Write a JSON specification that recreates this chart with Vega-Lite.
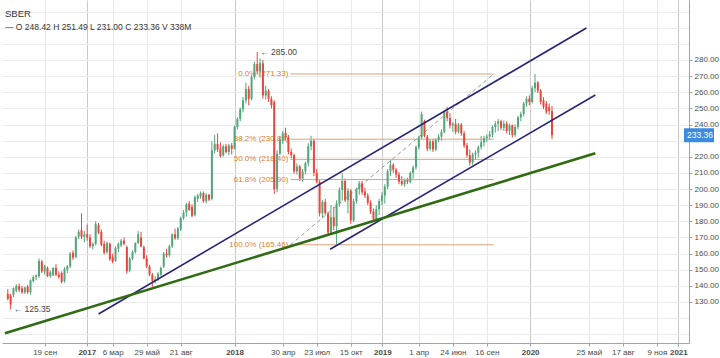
{
  "$schema": "https://vega.github.io/schema/vega-lite/v6.json",
  "width": 687,
  "height": 343,
  "autosize": {"type": "none"},
  "padding": {"left": 2, "top": 0, "right": 31, "bottom": 15},
  "background": "#ffffff",
  "config": {"view": {"stroke": null}, "font": "Liberation Sans", "axis": {"labelOverlap": false, "labelBound": false}},
  "title": {
    "text": "SBER",
    "subtitle": "—  O 248.42  H 251.49  L 231.00  C 233.36  V 338M",
    "anchor": "start",
    "frame": "group",
    "offset": -31,
    "dx": 3,
    "fontSize": 9.5,
    "fontWeight": "normal",
    "color": "#333333",
    "subtitleFontSize": 8.5,
    "subtitleColor": "#333333",
    "subtitlePadding": 4
  },
  "datasets": {
    "candles": [
      {"d":"2016-06-20","o":135,"h":138,"l":131,"c":132},
      {"d":"2016-06-27","o":134,"h":135,"l":125.35,"c":128.5},
      {"d":"2016-07-04","o":134.5,"h":139,"l":133,"c":138.5},
      {"d":"2016-07-11","o":137,"h":141,"l":136,"c":140},
      {"d":"2016-07-18","o":140,"h":141.5,"l":136,"c":137.5},
      {"d":"2016-07-25","o":138.5,"h":140,"l":135,"c":136},
      {"d":"2016-08-01","o":136,"h":139.5,"l":135,"c":139},
      {"d":"2016-08-08","o":139.5,"h":140.5,"l":135,"c":136},
      {"d":"2016-08-15","o":136,"h":144,"l":134.5,"c":143.5},
      {"d":"2016-08-22","o":143,"h":146.5,"l":142,"c":145.5},
      {"d":"2016-08-29","o":145.5,"h":147,"l":143.5,"c":146.5},
      {"d":"2016-09-05","o":146,"h":157,"l":145,"c":155.5},
      {"d":"2016-09-12","o":155,"h":156,"l":148,"c":149},
      {"d":"2016-09-19","o":149,"h":153,"l":147,"c":152},
      {"d":"2016-09-26","o":151,"h":152,"l":145.5,"c":146},
      {"d":"2016-10-03","o":146,"h":149.5,"l":145,"c":148.5},
      {"d":"2016-10-10","o":146.5,"h":151.5,"l":146,"c":151},
      {"d":"2016-10-17","o":151,"h":153.5,"l":146,"c":147},
      {"d":"2016-10-24","o":147,"h":149,"l":144.5,"c":145.5},
      {"d":"2016-10-31","o":148,"h":149,"l":141.5,"c":142.5},
      {"d":"2016-11-07","o":143,"h":151.5,"l":142,"c":150.5},
      {"d":"2016-11-14","o":150,"h":153,"l":148,"c":152},
      {"d":"2016-11-21","o":152,"h":161,"l":151,"c":160},
      {"d":"2016-11-28","o":160.5,"h":162,"l":156,"c":157.5},
      {"d":"2016-12-05","o":158,"h":171,"l":157,"c":170},
      {"d":"2016-12-12","o":170.5,"h":175,"l":169,"c":173.5},
      {"d":"2016-12-19","o":174.5,"h":185,"l":169,"c":170.5},
      {"d":"2016-12-26","o":170.5,"h":174,"l":167,"c":172},
      {"d":"2017-01-02","o":172,"h":178,"l":168,"c":170},
      {"d":"2017-01-09","o":170,"h":172,"l":163.5,"c":164.5},
      {"d":"2017-01-16","o":164.5,"h":167,"l":162.5,"c":166},
      {"d":"2017-01-23","o":166,"h":180,"l":165,"c":178.5},
      {"d":"2017-01-30","o":177.5,"h":179,"l":172,"c":173},
      {"d":"2017-02-06","o":173.5,"h":175,"l":164.5,"c":165.5},
      {"d":"2017-02-13","o":166,"h":168,"l":159.5,"c":160.5},
      {"d":"2017-02-20","o":161,"h":167.5,"l":160,"c":166.5},
      {"d":"2017-02-27","o":166,"h":167,"l":155.5,"c":156.5},
      {"d":"2017-03-06","o":158,"h":160,"l":154,"c":155},
      {"d":"2017-03-13","o":155.5,"h":164.5,"l":155,"c":163.5},
      {"d":"2017-03-20","o":163,"h":167,"l":161,"c":166},
      {"d":"2017-03-27","o":165,"h":169,"l":164,"c":168},
      {"d":"2017-04-03","o":168,"h":170,"l":165,"c":166},
      {"d":"2017-04-10","o":164,"h":165,"l":147.5,"c":149},
      {"d":"2017-04-17","o":149.5,"h":158,"l":148.5,"c":157},
      {"d":"2017-04-24","o":157,"h":162,"l":156,"c":161},
      {"d":"2017-05-01","o":161,"h":167,"l":160,"c":166.5},
      {"d":"2017-05-08","o":166.5,"h":174,"l":166,"c":172},
      {"d":"2017-05-15","o":170,"h":173.5,"l":164,"c":164.5},
      {"d":"2017-05-22","o":164,"h":165,"l":156.5,"c":157},
      {"d":"2017-05-29","o":157,"h":159,"l":151,"c":152},
      {"d":"2017-06-05","o":152,"h":153,"l":146,"c":147},
      {"d":"2017-06-12","o":147,"h":148,"l":139.5,"c":143},
      {"d":"2017-06-19","o":143,"h":146,"l":141.5,"c":144},
      {"d":"2017-06-26","o":144,"h":148.5,"l":143,"c":147.5},
      {"d":"2017-07-03","o":147,"h":152,"l":146,"c":151},
      {"d":"2017-07-10","o":152,"h":161,"l":151,"c":160},
      {"d":"2017-07-17","o":160,"h":163,"l":157.5,"c":159},
      {"d":"2017-07-24","o":159,"h":165.5,"l":158,"c":164.5},
      {"d":"2017-07-31","o":164.5,"h":172.5,"l":163.5,"c":172},
      {"d":"2017-08-07","o":172,"h":175.5,"l":168.5,"c":169.5},
      {"d":"2017-08-14","o":169.5,"h":176.5,"l":168.5,"c":175.5},
      {"d":"2017-08-21","o":175,"h":183,"l":174,"c":182},
      {"d":"2017-08-28","o":182,"h":187,"l":181,"c":185.5},
      {"d":"2017-09-04","o":185.5,"h":191.5,"l":183,"c":190.5},
      {"d":"2017-09-11","o":191,"h":192.5,"l":186.5,"c":187},
      {"d":"2017-09-18","o":189,"h":190.5,"l":182.5,"c":183.5},
      {"d":"2017-09-25","o":184,"h":196,"l":183,"c":195},
      {"d":"2017-10-02","o":194,"h":197,"l":192,"c":196},
      {"d":"2017-10-09","o":195.5,"h":198.5,"l":194,"c":197.5},
      {"d":"2017-10-16","o":197.5,"h":198.5,"l":191.5,"c":192.5},
      {"d":"2017-10-23","o":192.5,"h":197.5,"l":191,"c":196.5},
      {"d":"2017-10-30","o":196.5,"h":197,"l":192.5,"c":193.5},
      {"d":"2017-11-06","o":194,"h":229.5,"l":193,"c":224},
      {"d":"2017-11-13","o":224,"h":233.5,"l":222,"c":228},
      {"d":"2017-11-20","o":228,"h":234.5,"l":223,"c":224.5},
      {"d":"2017-11-27","o":225,"h":229,"l":219.5,"c":220.5},
      {"d":"2017-12-04","o":221,"h":227.5,"l":220,"c":226.5},
      {"d":"2017-12-11","o":226.5,"h":228,"l":222,"c":223},
      {"d":"2017-12-18","o":223,"h":228,"l":221,"c":227},
      {"d":"2017-12-25","o":227,"h":228.5,"l":221.5,"c":225},
      {"d":"2018-01-01","o":225,"h":239.5,"l":224.5,"c":238.5},
      {"d":"2018-01-08","o":238.5,"h":244.5,"l":237,"c":243.5},
      {"d":"2018-01-15","o":243.5,"h":250.5,"l":242,"c":249.5},
      {"d":"2018-01-22","o":249.5,"h":257,"l":247.5,"c":255},
      {"d":"2018-01-29","o":255,"h":266,"l":253,"c":262},
      {"d":"2018-02-05","o":262,"h":264,"l":252,"c":256},
      {"d":"2018-02-12","o":256,"h":271,"l":255,"c":269.5},
      {"d":"2018-02-19","o":269.5,"h":279,"l":268,"c":277.5},
      {"d":"2018-02-26","o":277.5,"h":285,"l":271,"c":273},
      {"d":"2018-03-05","o":273,"h":281,"l":270,"c":278},
      {"d":"2018-03-12","o":278,"h":280,"l":256,"c":258},
      {"d":"2018-03-19","o":258,"h":264,"l":255.5,"c":261},
      {"d":"2018-03-26","o":261,"h":262,"l":254,"c":256},
      {"d":"2018-04-02","o":256,"h":257.5,"l":250,"c":252},
      {"d":"2018-04-09","o":254,"h":255,"l":197,"c":200},
      {"d":"2018-04-16","o":200,"h":224,"l":198,"c":222},
      {"d":"2018-04-23","o":222,"h":233,"l":221,"c":231},
      {"d":"2018-04-30","o":230,"h":236,"l":228,"c":234.5},
      {"d":"2018-05-07","o":235,"h":238,"l":230,"c":232},
      {"d":"2018-05-14","o":232,"h":233.5,"l":221.5,"c":223},
      {"d":"2018-05-21","o":223,"h":225,"l":219,"c":221},
      {"d":"2018-05-28","o":221,"h":222,"l":209.5,"c":211},
      {"d":"2018-06-04","o":211,"h":216,"l":209,"c":214},
      {"d":"2018-06-11","o":214,"h":215,"l":205,"c":206.5},
      {"d":"2018-06-18","o":206.5,"h":212.5,"l":204.5,"c":211},
      {"d":"2018-06-25","o":211,"h":217,"l":209,"c":216},
      {"d":"2018-07-02","o":216,"h":228.5,"l":214,"c":226.5},
      {"d":"2018-07-09","o":226.5,"h":233,"l":224,"c":230},
      {"d":"2018-07-16","o":230,"h":231,"l":208,"c":210},
      {"d":"2018-07-23","o":210,"h":212.5,"l":203.5,"c":204.5},
      {"d":"2018-07-30","o":204.5,"h":205.5,"l":183,"c":185},
      {"d":"2018-08-06","o":185,"h":193,"l":182,"c":192},
      {"d":"2018-08-13","o":192,"h":194,"l":184,"c":185},
      {"d":"2018-08-20","o":185,"h":186,"l":171,"c":173},
      {"d":"2018-08-27","o":173,"h":190,"l":172,"c":182.5},
      {"d":"2018-09-03","o":182.5,"h":189,"l":174.5,"c":177},
      {"d":"2018-09-10","o":177,"h":193,"l":165.46,"c":191},
      {"d":"2018-09-17","o":191,"h":201,"l":189,"c":199.5},
      {"d":"2018-09-24","o":199.5,"h":210,"l":193,"c":205},
      {"d":"2018-10-01","o":205,"h":206.5,"l":192,"c":193},
      {"d":"2018-10-08","o":193,"h":200.5,"l":185,"c":199},
      {"d":"2018-10-15","o":199,"h":200,"l":178.5,"c":180.5},
      {"d":"2018-10-22","o":180.5,"h":194,"l":179.5,"c":192.5},
      {"d":"2018-10-29","o":192.5,"h":201,"l":191,"c":200},
      {"d":"2018-11-05","o":200,"h":205,"l":196.5,"c":203.5},
      {"d":"2018-11-12","o":203.5,"h":205,"l":196.5,"c":198},
      {"d":"2018-11-19","o":198.5,"h":201,"l":194.5,"c":196},
      {"d":"2018-11-26","o":196,"h":197.5,"l":190,"c":191.5},
      {"d":"2018-12-03","o":191.5,"h":193,"l":184.5,"c":186},
      {"d":"2018-12-10","o":186,"h":188,"l":179.5,"c":181.5},
      {"d":"2018-12-17","o":181.5,"h":190,"l":180.5,"c":187.5},
      {"d":"2018-12-24","o":187.5,"h":194,"l":184,"c":192.5},
      {"d":"2018-12-31","o":192.5,"h":198,"l":190,"c":196},
      {"d":"2019-01-07","o":196,"h":203,"l":191,"c":201.5},
      {"d":"2019-01-14","o":201.5,"h":212.5,"l":200,"c":211},
      {"d":"2019-01-21","o":211,"h":218,"l":208,"c":215},
      {"d":"2019-01-28","o":215,"h":216,"l":210,"c":212},
      {"d":"2019-02-04","o":212,"h":213,"l":207,"c":209},
      {"d":"2019-02-11","o":209,"h":210.5,"l":203,"c":204.5},
      {"d":"2019-02-18","o":205,"h":208,"l":202,"c":203},
      {"d":"2019-02-25","o":203,"h":206.5,"l":201.5,"c":205.5},
      {"d":"2019-03-04","o":205.5,"h":207,"l":203,"c":204.5},
      {"d":"2019-03-11","o":204.5,"h":211,"l":203.5,"c":210},
      {"d":"2019-03-18","o":210,"h":214.5,"l":206.5,"c":213.5},
      {"d":"2019-03-25","o":213.5,"h":227,"l":212,"c":226},
      {"d":"2019-04-01","o":226,"h":233,"l":224.5,"c":232},
      {"d":"2019-04-08","o":232,"h":248,"l":231,"c":246.5},
      {"d":"2019-04-15","o":242,"h":243,"l":232,"c":233},
      {"d":"2019-04-22","o":232.5,"h":233.5,"l":223.5,"c":225},
      {"d":"2019-04-29","o":225,"h":231,"l":224,"c":229.5},
      {"d":"2019-05-06","o":229.5,"h":231,"l":223,"c":224.5},
      {"d":"2019-05-13","o":224.5,"h":231.5,"l":223.5,"c":230.5},
      {"d":"2019-05-20","o":230.5,"h":234,"l":229,"c":232.5},
      {"d":"2019-05-27","o":232.5,"h":237,"l":230,"c":235.5},
      {"d":"2019-06-03","o":235.5,"h":249,"l":234.5,"c":248},
      {"d":"2019-06-10","o":248,"h":251,"l":242,"c":244},
      {"d":"2019-06-17","o":244,"h":247,"l":237.5,"c":239.5},
      {"d":"2019-06-24","o":239.5,"h":241.5,"l":235.5,"c":240.5},
      {"d":"2019-07-01","o":240.5,"h":243.5,"l":234,"c":235.5},
      {"d":"2019-07-08","o":235.5,"h":241,"l":234.5,"c":240},
      {"d":"2019-07-15","o":240,"h":241,"l":233,"c":234.5},
      {"d":"2019-07-22","o":234.5,"h":236,"l":225.5,"c":227},
      {"d":"2019-07-29","o":227,"h":228.5,"l":219.5,"c":221},
      {"d":"2019-08-05","o":221,"h":224.5,"l":214.5,"c":216.5},
      {"d":"2019-08-12","o":216.5,"h":222.5,"l":215,"c":221.5},
      {"d":"2019-08-19","o":221.5,"h":224,"l":218,"c":222.5},
      {"d":"2019-08-26","o":222.5,"h":227,"l":219.5,"c":226},
      {"d":"2019-09-02","o":226,"h":233,"l":224.5,"c":229},
      {"d":"2019-09-09","o":229,"h":233,"l":226.5,"c":231.5},
      {"d":"2019-09-16","o":231.5,"h":234,"l":229,"c":232.5},
      {"d":"2019-09-23","o":232.5,"h":236,"l":230.5,"c":234},
      {"d":"2019-09-30","o":234,"h":239.5,"l":232,"c":238.5},
      {"d":"2019-10-07","o":238.5,"h":242,"l":235,"c":240.5},
      {"d":"2019-10-14","o":240.5,"h":243.5,"l":236,"c":242},
      {"d":"2019-10-21","o":242,"h":243,"l":236.5,"c":238},
      {"d":"2019-10-28","o":238,"h":242.5,"l":236,"c":240.5},
      {"d":"2019-11-04","o":240.5,"h":242,"l":234.5,"c":236},
      {"d":"2019-11-11","o":236,"h":240.5,"l":233.5,"c":239.5},
      {"d":"2019-11-18","o":239.5,"h":240,"l":232,"c":233.5},
      {"d":"2019-11-25","o":233.5,"h":240,"l":232.5,"c":238.5},
      {"d":"2019-12-02","o":238.5,"h":245.5,"l":237,"c":244.5},
      {"d":"2019-12-09","o":244.5,"h":248,"l":242,"c":246.5},
      {"d":"2019-12-16","o":246.5,"h":254,"l":245,"c":253},
      {"d":"2019-12-23","o":253,"h":257.5,"l":251,"c":256},
      {"d":"2019-12-30","o":256,"h":258,"l":252,"c":254},
      {"d":"2020-01-06","o":254,"h":264,"l":253,"c":262.5},
      {"d":"2020-01-13","o":262.5,"h":271.3,"l":260,"c":266},
      {"d":"2020-01-20","o":266,"h":267,"l":259.5,"c":261},
      {"d":"2020-01-27","o":261,"h":262,"l":252.5,"c":254},
      {"d":"2020-02-03","o":255,"h":257,"l":249.5,"c":251},
      {"d":"2020-02-10","o":253,"h":254.5,"l":246.5,"c":248},
      {"d":"2020-02-17","o":251,"h":253,"l":246,"c":248.42},
      {"d":"2020-02-24","o":248.42,"h":251.49,"l":231,"c":233.36}
    ],
    "fib": [
      {"d":"2018-05-19","d2":"2019-10-03","v":271.33,"t":"0.0% (271.33)"},
      {"d":"2018-05-19","d2":"2019-10-03","v":230.89,"t":"38.2% (230.89)"},
      {"d":"2018-05-19","d2":"2019-10-03","v":218.40,"t":"50.0% (218.40)"},
      {"d":"2018-05-19","d2":"2019-10-03","v":205.90,"t":"61.8% (205.90)"},
      {"d":"2018-05-19","d2":"2019-10-03","v":165.46,"t":"100.0% (165.46)"}
    ],
    "diag": [
      {"d":"2018-05-19","p":165.46,"d2":"2019-10-03","p2":271.33}
    ],
    "navy": [
      {"d":"2017-01-30","p":122.56,"d2":"2020-05-19","p2":299.83},
      {"d":"2018-08-25","p":162.66,"d2":"2020-06-10","p2":258.3}
    ],
    "green": [
      {"d":"2016-06-13","p":110.6,"d2":"2020-06-10","p2":222.17}
    ],
    "marks": [
      {"d":"2018-02-26","p":285,"t":"← 285.00"},
      {"d":"2016-06-27","p":125.35,"t":"← 125.35"}
    ],
    "last": [
      {"d":"2021-01-15","p":233.36,"t":"233.36"}
    ]
  },
  "layer": [
    {
      "data": {"name": "candles"},
      "mark": {"type": "rule", "strokeWidth": 1},
      "encoding": {
        "x": {
          "field": "d", "type": "temporal", "title": null,
          "scale": {"type": "utc", "domain": [{"year": 2016, "month": 6, "date": 18, "utc": true}, {"year": 2021, "month": 1, "date": 15, "utc": true}]},
          "axis": {
            "values": [
              {"year": 2016, "month": 9, "date": 19, "utc": true},
              {"year": 2017, "month": 1, "date": 1, "utc": true},
              {"year": 2017, "month": 3, "date": 6, "utc": true},
              {"year": 2017, "month": 5, "date": 29, "utc": true},
              {"year": 2017, "month": 8, "date": 21, "utc": true},
              {"year": 2018, "month": 1, "date": 1, "utc": true},
              {"year": 2018, "month": 4, "date": 30, "utc": true},
              {"year": 2018, "month": 7, "date": 23, "utc": true},
              {"year": 2018, "month": 10, "date": 15, "utc": true},
              {"year": 2019, "month": 1, "date": 1, "utc": true},
              {"year": 2019, "month": 4, "date": 1, "utc": true},
              {"year": 2019, "month": 6, "date": 24, "utc": true},
              {"year": 2019, "month": 9, "date": 16, "utc": true},
              {"year": 2020, "month": 1, "date": 1, "utc": true},
              {"year": 2020, "month": 5, "date": 25, "utc": true},
              {"year": 2020, "month": 8, "date": 17, "utc": true},
              {"year": 2020, "month": 11, "date": 9, "utc": true},
              {"year": 2021, "month": 1, "date": 1, "utc": true}
            ],
            "tickCount": 60,
            "labelExpr": "utcmonth(datum.value) == 0 && utcdate(datum.value) == 1 ? utcFormat(datum.value, '%Y') : utcdate(datum.value) + ' ' + ['янв','фев','мар','апр','май','июн','июл','авг','сен','окт','ноя','дек'][utcmonth(datum.value)]",
            "grid": true,
            "gridColor": {"condition": {"test": "utcmonth(datum.value) == 0 && utcdate(datum.value) == 1", "value": "#c8c8c8"}, "value": "#e8e8e8"},
            "labelFontWeight": {"condition": {"test": "utcmonth(datum.value) == 0 && utcdate(datum.value) == 1", "value": "bold"}, "value": "normal"},
            "labelFontSize": 8,
            "labelColor": "#4a4a4a",
            "labelPadding": 2,
            "labelOverlap": false,
            "labelFlush": false,
            "tickSize": 3,
            "tickColor": "#9aa5b1",
            "domainColor": "#9aa5b1"
          }
        },
        "y": {
          "field": "l", "type": "quantitative", "title": null,
          "scale": {"domain": [104.58, 317.19], "nice": false, "zero": false},
          "axis": {
            "orient": "right",
            "values": [110,120,130,140,150,160,170,180,190,200,210,220,230,240,250,260,270,280,290,300,310],
            "tickCount": 60,
            "labelExpr": "datum.value >= 130 && datum.value <= 280 && datum.value != 230 ? format(datum.value, '.2f') : ''",
            "tickColor": {"condition": {"test": "datum.value < 130 || datum.value > 280", "value": "transparent"}, "value": "#9aa5b1"},
            "grid": true,
            "gridColor": "#ebebeb",
            "labelFontSize": 8,
            "labelColor": "#4a4a4a",
            "labelPadding": 2,
            "labelAlign": "left",
            "labelOverlap": false,
            "labelFlush": false,
            "tickSize": 3,
            "domainColor": "#9aa5b1"
          }
        },
        "y2": {"field": "h"},
        "color": {"condition": {"test": "datum.c >= datum.o", "value": "#53a57a"}, "value": "#e5483d"}
      }
    },
    {
      "data": {"name": "fib"},
      "mark": {"type": "rule", "strokeWidth": 1, "color": "#d9a477"},
      "encoding": {
        "x": {"field": "d", "type": "temporal", "title": null, "scale": {"type": "utc", "domain": [{"year": 2016, "month": 6, "date": 18, "utc": true}, {"year": 2021, "month": 1, "date": 15, "utc": true}]}},
        "x2": {"field": "d2"},
        "y": {"field": "v", "type": "quantitative", "title": null, "scale": {"domain": [104.58, 317.19], "nice": false, "zero": false}}
      }
    },
    {
      "data": {"name": "fib"},
      "mark": {"type": "text", "align": "right", "baseline": "middle", "dx": -2, "fontSize": 8, "color": "#d9822b"},
      "encoding": {
        "x": {"field": "d", "type": "temporal", "title": null, "scale": {"type": "utc", "domain": [{"year": 2016, "month": 6, "date": 18, "utc": true}, {"year": 2021, "month": 1, "date": 15, "utc": true}]}},
        "y": {"field": "v", "type": "quantitative", "title": null, "scale": {"domain": [104.58, 317.19], "nice": false, "zero": false}},
        "text": {"field": "t"}
      }
    },
    {
      "data": {"name": "diag"},
      "mark": {"type": "rule", "strokeWidth": 1, "color": "#9a9a9a", "strokeDash": [4, 3]},
      "encoding": {
        "x": {"field": "d", "type": "temporal", "title": null, "scale": {"type": "utc", "domain": [{"year": 2016, "month": 6, "date": 18, "utc": true}, {"year": 2021, "month": 1, "date": 15, "utc": true}]}},
        "x2": {"field": "d2"},
        "y": {"field": "p", "type": "quantitative", "title": null, "scale": {"domain": [104.58, 317.19], "nice": false, "zero": false}},
        "y2": {"field": "p2"}
      }
    },
    {
      "mark": {"type": "rule", "strokeWidth": 1, "color": "#a9bdd6"},
      "encoding": {
        "y": {"datum": 233.36, "type": "quantitative", "title": null, "scale": {"domain": [104.58, 317.19], "nice": false, "zero": false}}
      }
    },
    {
      "data": {"name": "candles"},
      "mark": {"type": "bar", "width": 2},
      "encoding": {
        "x": {"field": "d", "type": "temporal", "title": null, "scale": {"type": "utc", "domain": [{"year": 2016, "month": 6, "date": 18, "utc": true}, {"year": 2021, "month": 1, "date": 15, "utc": true}]}},
        "y": {"field": "o", "type": "quantitative", "title": null, "scale": {"domain": [104.58, 317.19], "nice": false, "zero": false}},
        "y2": {"field": "c"},
        "color": {"condition": {"test": "datum.c >= datum.o", "value": "#53a57a"}, "value": "#e5483d"}
      }
    },
    {
      "data": {"name": "navy"},
      "mark": {"type": "rule", "strokeWidth": 1.6, "color": "#28237a", "clip": true},
      "encoding": {
        "x": {"field": "d", "type": "temporal", "title": null, "scale": {"type": "utc", "domain": [{"year": 2016, "month": 6, "date": 18, "utc": true}, {"year": 2021, "month": 1, "date": 15, "utc": true}]}},
        "x2": {"field": "d2"},
        "y": {"field": "p", "type": "quantitative", "title": null, "scale": {"domain": [104.58, 317.19], "nice": false, "zero": false}},
        "y2": {"field": "p2"}
      }
    },
    {
      "data": {"name": "green"},
      "mark": {"type": "rule", "strokeWidth": 2.6, "color": "#2f6b12", "clip": true},
      "encoding": {
        "x": {"field": "d", "type": "temporal", "title": null, "scale": {"type": "utc", "domain": [{"year": 2016, "month": 6, "date": 18, "utc": true}, {"year": 2021, "month": 1, "date": 15, "utc": true}]}},
        "x2": {"field": "d2"},
        "y": {"field": "p", "type": "quantitative", "title": null, "scale": {"domain": [104.58, 317.19], "nice": false, "zero": false}},
        "y2": {"field": "p2"}
      }
    },
    {
      "data": {"name": "marks"},
      "mark": {"type": "text", "align": "left", "baseline": "middle", "dx": 3, "fontSize": 8.5, "color": "#444444"},
      "encoding": {
        "x": {"field": "d", "type": "temporal", "title": null, "scale": {"type": "utc", "domain": [{"year": 2016, "month": 6, "date": 18, "utc": true}, {"year": 2021, "month": 1, "date": 15, "utc": true}]}},
        "y": {"field": "p", "type": "quantitative", "title": null, "scale": {"domain": [104.58, 317.19], "nice": false, "zero": false}},
        "text": {"field": "t"}
      }
    },
    {
      "data": {"name": "last"},
      "mark": {"type": "rect", "color": "#3d8be0", "x2Offset": 30, "yOffset": -7, "y2Offset": 7},
      "encoding": {
        "x": {"field": "d", "type": "temporal", "title": null, "scale": {"type": "utc", "domain": [{"year": 2016, "month": 6, "date": 18, "utc": true}, {"year": 2021, "month": 1, "date": 15, "utc": true}]}},
        "x2": {"field": "d"},
        "y": {"field": "p", "type": "quantitative", "title": null, "scale": {"domain": [104.58, 317.19], "nice": false, "zero": false}},
        "y2": {"field": "p"}
      }
    },
    {
      "data": {"name": "last"},
      "mark": {"type": "text", "align": "left", "baseline": "middle", "dx": 3, "fontSize": 8.5, "color": "#ffffff"},
      "encoding": {
        "x": {"field": "d", "type": "temporal", "title": null, "scale": {"type": "utc", "domain": [{"year": 2016, "month": 6, "date": 18, "utc": true}, {"year": 2021, "month": 1, "date": 15, "utc": true}]}},
        "y": {"field": "p", "type": "quantitative", "title": null, "scale": {"domain": [104.58, 317.19], "nice": false, "zero": false}},
        "text": {"field": "t"}
      }
    }
  ]
}
